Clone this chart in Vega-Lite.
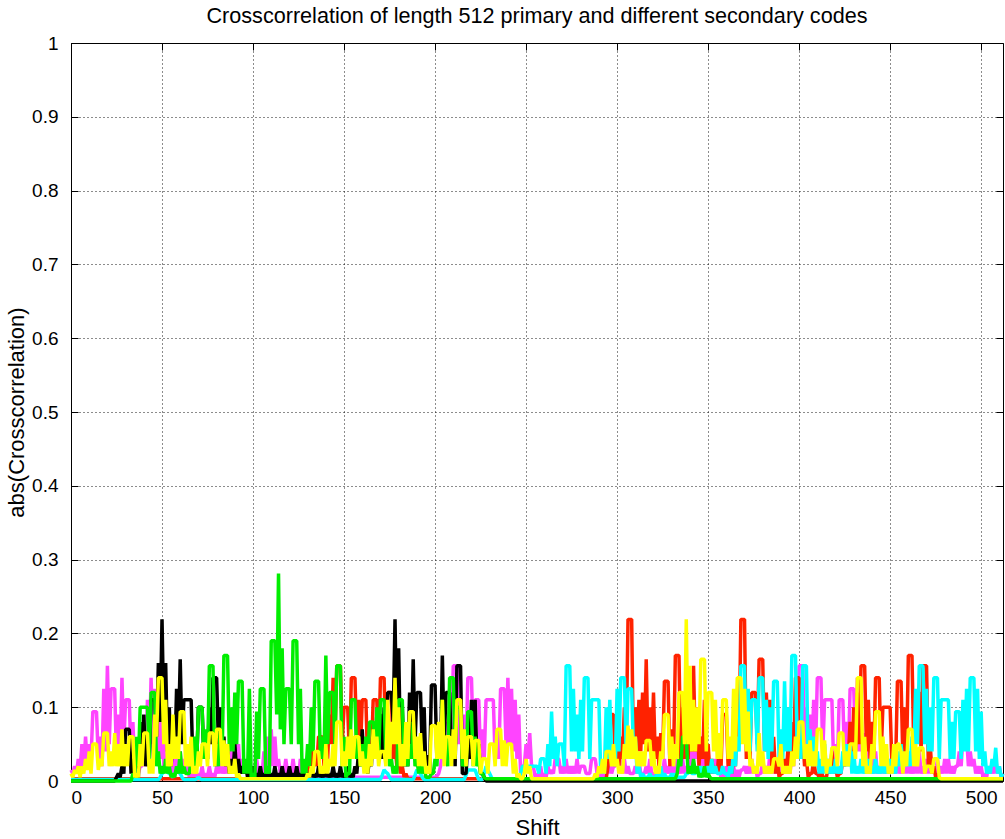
{
"$schema": "https://vega.github.io/schema/vega-lite/v6.json",
"width": 932, "height": 738,
"autosize": {"type": "none"},
"padding": {"left": 71, "top": 43, "right": 2, "bottom": 58},
"background": "white",
"title": {"text": "Crosscorrelation of length 512 primary and different secondary codes", "fontSize": 21.6, "font": "Liberation Sans", "fontWeight": "normal", "color": "black", "offset": 6, "anchor": "middle"},
"config": {"view": {"stroke": "black", "strokeWidth": 1}, "font": "Liberation Sans"},
"data": {"values": [
{"x":0,"m":0.015,"k":0,"g":0,"r":0.003,"c":0.002,"yl":0.01},
{"x":2,"m":0.02,"k":0,"g":0,"r":0.003,"c":0.002,"yl":0.015},
{"x":4,"m":0.03,"k":0,"g":0,"r":0.003,"c":0.002,"yl":0.02},
{"x":6,"m":0.05,"k":0,"g":0,"r":0.003,"c":0.002,"yl":0.02},
{"x":8,"m":0.06,"k":0,"g":0,"r":0.003,"c":0.002,"yl":0.03},
{"x":10,"m":0.05,"k":0,"g":0,"r":0.003,"c":0.002,"yl":0.04},
{"x":12,"m":0.094,"k":0,"g":0,"r":0.003,"c":0.002,"yl":0.05},
{"x":14,"m":0.094,"k":0,"g":0,"r":0.003,"c":0.002,"yl":0.05},
{"x":16,"m":0.06,"k":0,"g":0,"r":0.003,"c":0.002,"yl":0.03},
{"x":18,"m":0.125,"k":0,"g":0,"r":0.003,"c":0.002,"yl":0.065},
{"x":20,"m":0.156,"k":0,"g":0,"r":0.003,"c":0.002,"yl":0.065},
{"x":22,"m":0.125,"k":0,"g":0,"r":0.003,"c":0.002,"yl":0.04},
{"x":24,"m":0.125,"k":0,"g":0,"r":0.003,"c":0.002,"yl":0.065},
{"x":26,"m":0.09,"k":0.01,"g":0,"r":0.003,"c":0.002,"yl":0.05},
{"x":28,"m":0.14,"k":0.02,"g":0,"r":0.003,"c":0.002,"yl":0.07},
{"x":30,"m":0.11,"k":0.07,"g":0,"r":0.003,"c":0.002,"yl":0.05},
{"x":32,"m":0.11,"k":0.07,"g":0,"r":0.003,"c":0.002,"yl":0.06},
{"x":34,"m":0.08,"k":0.03,"g":0.01,"r":0.003,"c":0.002,"yl":0.06},
{"x":36,"m":0.05,"k":0.01,"g":0.06,"r":0.003,"c":0.002,"yl":0.01},
{"x":38,"m":0.02,"k":0.08,"g":0.1,"r":0.003,"c":0.002,"yl":0.05},
{"x":40,"m":0.06,"k":0.09,"g":0.1,"r":0.003,"c":0.002,"yl":0.065},
{"x":42,"m":0.11,"k":0.05,"g":0.1,"r":0.003,"c":0.002,"yl":0.065},
{"x":44,"m":0.14,"k":0.11,"g":0.12,"r":0.003,"c":0.002,"yl":0.03},
{"x":46,"m":0.125,"k":0.11,"g":0.12,"r":0.003,"c":0.002,"yl":0.09},
{"x":48,"m":0.1,"k":0.16,"g":0.04,"r":0.003,"c":0.002,"yl":0.14},
{"x":50,"m":0.08,"k":0.219,"g":0.02,"r":0.003,"c":0.01,"yl":0.14},
{"x":52,"m":0.06,"k":0.16,"g":0.03,"r":0.003,"c":0.015,"yl":0.11},
{"x":54,"m":0.05,"k":0.1,"g":0.02,"r":0.003,"c":0.01,"yl":0.05},
{"x":56,"m":0.04,"k":0.06,"g":0.01,"r":0.003,"c":0.005,"yl":0.09},
{"x":58,"m":0.03,"k":0.125,"g":0.02,"r":0.003,"c":0.015,"yl":0.06},
{"x":60,"m":0.04,"k":0.165,"g":0.04,"r":0.003,"c":0.01,"yl":0.094},
{"x":62,"m":0.03,"k":0.11,"g":0.02,"r":0.003,"c":0.002,"yl":0.094},
{"x":64,"m":0.02,"k":0.11,"g":0.01,"r":0.003,"c":0.002,"yl":0.05},
{"x":66,"m":0.01,"k":0.11,"g":0.03,"r":0.003,"c":0.002,"yl":0.06},
{"x":68,"m":0.02,"k":0.03,"g":0.06,"r":0.003,"c":0.002,"yl":0.02},
{"x":70,"m":0.01,"k":0.1,"g":0.1,"r":0.003,"c":0.005,"yl":0.04},
{"x":72,"m":0.02,"k":0.1,"g":0.1,"r":0.003,"c":0.002,"yl":0.05},
{"x":74,"m":0.01,"k":0.06,"g":0.07,"r":0.003,"c":0.002,"yl":0.05},
{"x":76,"m":0.02,"k":0.1,"g":0.156,"r":0.003,"c":0.002,"yl":0.065},
{"x":78,"m":0.01,"k":0.14,"g":0.156,"r":0.003,"c":0.002,"yl":0.065},
{"x":80,"m":0.02,"k":0.14,"g":0.05,"r":0.003,"c":0.002,"yl":0.07},
{"x":82,"m":0.03,"k":0.1,"g":0.07,"r":0.003,"c":0.002,"yl":0.07},
{"x":84,"m":0.02,"k":0.06,"g":0.17,"r":0.003,"c":0.002,"yl":0.055},
{"x":86,"m":0.03,"k":0.04,"g":0.17,"r":0.003,"c":0.002,"yl":0.05},
{"x":88,"m":0.05,"k":0.03,"g":0.1,"r":0.003,"c":0.002,"yl":0.02},
{"x":90,"m":0.07,"k":0.05,"g":0.12,"r":0.003,"c":0.002,"yl":0.03},
{"x":92,"m":0.05,"k":0.03,"g":0.135,"r":0.003,"c":0.002,"yl":0.01},
{"x":94,"m":0.03,"k":0.02,"g":0.135,"r":0.003,"c":0.002,"yl":0.003},
{"x":96,"m":0.02,"k":0.02,"g":0.03,"r":0.003,"c":0.002,"yl":0.003},
{"x":98,"m":0.03,"k":0.01,"g":0.125,"r":0.003,"c":0.002,"yl":0.003},
{"x":100,"m":0.02,"k":0.02,"g":0.01,"r":0.003,"c":0.002,"yl":0.003},
{"x":102,"m":0.03,"k":0.01,"g":0.094,"r":0.003,"c":0.002,"yl":0.003},
{"x":104,"m":0.02,"k":0.02,"g":0.125,"r":0.003,"c":0.002,"yl":0.003},
{"x":106,"m":0.04,"k":0.01,"g":0.125,"r":0.003,"c":0.002,"yl":0.003},
{"x":108,"m":0.06,"k":0.02,"g":0.02,"r":0.003,"c":0.002,"yl":0.003},
{"x":110,"m":0.07,"k":0.01,"g":0.19,"r":0.003,"c":0.002,"yl":0.003},
{"x":112,"m":0.06,"k":0.02,"g":0.19,"r":0.003,"c":0.002,"yl":0.003},
{"x":114,"m":0.03,"k":0.01,"g":0.281,"r":0.003,"c":0.002,"yl":0.003},
{"x":116,"m":0.02,"k":0.02,"g":0.18,"r":0.003,"c":0.002,"yl":0.003},
{"x":118,"m":0.03,"k":0.01,"g":0.125,"r":0.003,"c":0.002,"yl":0.003},
{"x":120,"m":0.01,"k":0.02,"g":0.125,"r":0.003,"c":0.002,"yl":0.003},
{"x":122,"m":0.03,"k":0.01,"g":0.19,"r":0.003,"c":0.002,"yl":0.003},
{"x":124,"m":0.01,"k":0.02,"g":0.19,"r":0.003,"c":0.002,"yl":0.003},
{"x":126,"m":0.03,"k":0.01,"g":0.125,"r":0.003,"c":0.002,"yl":0.003},
{"x":128,"m":0.01,"k":0.02,"g":0.03,"r":0.003,"c":0.002,"yl":0.003},
{"x":130,"m":0.02,"k":0.01,"g":0.05,"r":0.02,"c":0.002,"yl":0.01},
{"x":132,"m":0.005,"k":0.02,"g":0.1,"r":0.05,"c":0.002,"yl":0.02},
{"x":134,"m":0.005,"k":0.01,"g":0.135,"r":0.04,"c":0.002,"yl":0.04},
{"x":136,"m":0.005,"k":0.02,"g":0.135,"r":0.06,"c":0.002,"yl":0.04},
{"x":138,"m":0.005,"k":0.01,"g":0.06,"r":0.06,"c":0.002,"yl":0.02},
{"x":140,"m":0.005,"k":0.02,"g":0.17,"r":0.05,"c":0.002,"yl":0.05},
{"x":142,"m":0.005,"k":0.01,"g":0.12,"r":0.09,"c":0.002,"yl":0.03},
{"x":144,"m":0.005,"k":0.02,"g":0.12,"r":0.14,"c":0.002,"yl":0.05},
{"x":146,"m":0.005,"k":0.01,"g":0.156,"r":0.156,"c":0.002,"yl":0.08},
{"x":148,"m":0.005,"k":0.02,"g":0.156,"r":0.156,"c":0.002,"yl":0.08},
{"x":150,"m":0.005,"k":0.01,"g":0.06,"r":0.1,"c":0.002,"yl":0.04},
{"x":152,"m":0.005,"k":0.02,"g":0.01,"r":0.1,"c":0.002,"yl":0.06},
{"x":154,"m":0.005,"k":0.01,"g":0.11,"r":0.14,"c":0.002,"yl":0.07},
{"x":156,"m":0.005,"k":0.02,"g":0.11,"r":0.14,"c":0.002,"yl":0.06},
{"x":158,"m":0.005,"k":0.04,"g":0.06,"r":0.11,"c":0.002,"yl":0.06},
{"x":160,"m":0.005,"k":0.07,"g":0.05,"r":0.11,"c":0.002,"yl":0.04},
{"x":162,"m":0.005,"k":0.05,"g":0.06,"r":0.11,"c":0.002,"yl":0.03},
{"x":164,"m":0.005,"k":0.03,"g":0.08,"r":0.05,"c":0.002,"yl":0.05},
{"x":166,"m":0.005,"k":0.07,"g":0.08,"r":0.11,"c":0.002,"yl":0.07},
{"x":168,"m":0.005,"k":0.09,"g":0.1,"r":0.11,"c":0.002,"yl":0.06},
{"x":170,"m":0.005,"k":0.09,"g":0.11,"r":0.14,"c":0.002,"yl":0.04},
{"x":172,"m":0.005,"k":0.1,"g":0.11,"r":0.14,"c":0.015,"yl":0.04},
{"x":174,"m":0.005,"k":0.12,"g":0.08,"r":0.12,"c":0.01,"yl":0.11},
{"x":176,"m":0.005,"k":0.12,"g":0.03,"r":0.12,"c":0.002,"yl":0.08},
{"x":178,"m":0.005,"k":0.219,"g":0.02,"r":0.05,"c":0.002,"yl":0.14},
{"x":180,"m":0.005,"k":0.18,"g":0.11,"r":0.03,"c":0.002,"yl":0.1},
{"x":182,"m":0.005,"k":0.1,"g":0.11,"r":0.02,"c":0.002,"yl":0.05},
{"x":184,"m":0.005,"k":0.05,"g":0.06,"r":0.01,"c":0.002,"yl":0.08},
{"x":186,"m":0.005,"k":0.12,"g":0.05,"r":0.003,"c":0.002,"yl":0.094},
{"x":188,"m":0.005,"k":0.165,"g":0.08,"r":0.003,"c":0.002,"yl":0.094},
{"x":190,"m":0.005,"k":0.12,"g":0.03,"r":0.003,"c":0.015,"yl":0.06},
{"x":192,"m":0.005,"k":0.12,"g":0.05,"r":0.003,"c":0.01,"yl":0.065},
{"x":194,"m":0.005,"k":0.1,"g":0.02,"r":0.003,"c":0.002,"yl":0.04},
{"x":196,"m":0.005,"k":0.035,"g":0.005,"r":0.003,"c":0.002,"yl":0.02},
{"x":198,"m":0.005,"k":0.13,"g":0.01,"r":0.003,"c":0.002,"yl":0.075},
{"x":200,"m":0.005,"k":0.13,"g":0.03,"r":0.003,"c":0.002,"yl":0.075},
{"x":202,"m":0.01,"k":0.06,"g":0.07,"r":0.003,"c":0.002,"yl":0.08},
{"x":204,"m":0.04,"k":0.17,"g":0.11,"r":0.003,"c":0.002,"yl":0.11},
{"x":206,"m":0.08,"k":0.12,"g":0.05,"r":0.003,"c":0.002,"yl":0.06},
{"x":208,"m":0.125,"k":0.12,"g":0.14,"r":0.003,"c":0.002,"yl":0.06},
{"x":210,"m":0.156,"k":0.06,"g":0.14,"r":0.003,"c":0.002,"yl":0.07},
{"x":212,"m":0.156,"k":0.156,"g":0.1,"r":0.003,"c":0.002,"yl":0.11},
{"x":214,"m":0.1,"k":0.156,"g":0.1,"r":0.003,"c":0.002,"yl":0.11},
{"x":216,"m":0.09,"k":0.01,"g":0.03,"r":0.003,"c":0.002,"yl":0.07},
{"x":218,"m":0.14,"k":0.05,"g":0.094,"r":0.003,"c":0.015,"yl":0.06},
{"x":220,"m":0.14,"k":0.11,"g":0.094,"r":0.003,"c":0.015,"yl":0.06},
{"x":222,"m":0.11,"k":0.11,"g":0.06,"r":0.003,"c":0.015,"yl":0.055},
{"x":224,"m":0.11,"k":0.05,"g":0.03,"r":0.003,"c":0.002,"yl":0.055},
{"x":226,"m":0.07,"k":0.01,"g":0.01,"r":0.003,"c":0.002,"yl":0.03},
{"x":228,"m":0.11,"k":0,"g":0.003,"r":0.003,"c":0.02,"yl":0.03},
{"x":230,"m":0.11,"k":0,"g":0.003,"r":0.003,"c":0.01,"yl":0.05},
{"x":232,"m":0.11,"k":0,"g":0.003,"r":0.003,"c":0.002,"yl":0.05},
{"x":234,"m":0.07,"k":0,"g":0.003,"r":0.003,"c":0.002,"yl":0.07},
{"x":236,"m":0.125,"k":0,"g":0.003,"r":0.003,"c":0.002,"yl":0.07},
{"x":238,"m":0.125,"k":0,"g":0.003,"r":0.003,"c":0.002,"yl":0.055},
{"x":240,"m":0.14,"k":0,"g":0.003,"r":0.003,"c":0.002,"yl":0.05},
{"x":242,"m":0.125,"k":0,"g":0.003,"r":0.003,"c":0.002,"yl":0.05},
{"x":244,"m":0.11,"k":0,"g":0.003,"r":0.003,"c":0.002,"yl":0.03},
{"x":246,"m":0.09,"k":0,"g":0.003,"r":0.003,"c":0.002,"yl":0.01},
{"x":248,"m":0.02,"k":0,"g":0.003,"r":0.003,"c":0.02,"yl":0.003},
{"x":250,"m":0.05,"k":0,"g":0.003,"r":0.003,"c":0.02,"yl":0.03},
{"x":252,"m":0.065,"k":0,"g":0.003,"r":0.003,"c":0.02,"yl":0.02},
{"x":254,"m":0.02,"k":0,"g":0.003,"r":0.003,"c":0.02,"yl":0.003},
{"x":256,"m":0.01,"k":0,"g":0.003,"r":0.003,"c":0.02,"yl":0.003},
{"x":258,"m":0.02,"k":0,"g":0.003,"r":0.003,"c":0.03,"yl":0.003},
{"x":260,"m":0.01,"k":0,"g":0.003,"r":0.003,"c":0.03,"yl":0.003},
{"x":262,"m":0.02,"k":0,"g":0.003,"r":0.003,"c":0.05,"yl":0.003},
{"x":264,"m":0.015,"k":0,"g":0.003,"r":0.003,"c":0.094,"yl":0.003},
{"x":266,"m":0.03,"k":0,"g":0.003,"r":0.003,"c":0.06,"yl":0.003},
{"x":268,"m":0.03,"k":0,"g":0.003,"r":0.003,"c":0.05,"yl":0.003},
{"x":270,"m":0.02,"k":0,"g":0.003,"r":0.003,"c":0.05,"yl":0.003},
{"x":272,"m":0.03,"k":0,"g":0.003,"r":0.003,"c":0.156,"yl":0.003},
{"x":274,"m":0.02,"k":0,"g":0.003,"r":0.003,"c":0.156,"yl":0.003},
{"x":276,"m":0.02,"k":0,"g":0.003,"r":0.003,"c":0.125,"yl":0.003},
{"x":278,"m":0.03,"k":0,"g":0.003,"r":0.003,"c":0.09,"yl":0.003},
{"x":280,"m":0.02,"k":0,"g":0.003,"r":0.003,"c":0.11,"yl":0.003},
{"x":282,"m":0.02,"k":0,"g":0.003,"r":0.003,"c":0.14,"yl":0.003},
{"x":284,"m":0.01,"k":0,"g":0.003,"r":0.003,"c":0.14,"yl":0.003},
{"x":286,"m":0.03,"k":0,"g":0.003,"r":0.003,"c":0.11,"yl":0.003},
{"x":288,"m":0.03,"k":0,"g":0.003,"r":0.003,"c":0.11,"yl":0.01},
{"x":290,"m":0.02,"k":0,"g":0.003,"r":0.003,"c":0.11,"yl":0.02},
{"x":292,"m":0.01,"k":0,"g":0.003,"r":0.003,"c":0.02,"yl":0.03},
{"x":294,"m":0.02,"k":0,"g":0.003,"r":0.003,"c":0.1,"yl":0.04},
{"x":296,"m":0.03,"k":0,"g":0.003,"r":0.09,"c":0.11,"yl":0.04},
{"x":298,"m":0.02,"k":0,"g":0.003,"r":0.09,"c":0.05,"yl":0.05},
{"x":300,"m":0.05,"k":0,"g":0.003,"r":0.05,"c":0.125,"yl":0.03},
{"x":302,"m":0.05,"k":0,"g":0.003,"r":0.06,"c":0.14,"yl":0.02},
{"x":304,"m":0.03,"k":0,"g":0.003,"r":0.1,"c":0.14,"yl":0.05},
{"x":306,"m":0.02,"k":0,"g":0.003,"r":0.219,"c":0.125,"yl":0.075},
{"x":308,"m":0.01,"k":0,"g":0.003,"r":0.219,"c":0.125,"yl":0.07},
{"x":310,"m":0.02,"k":0,"g":0.003,"r":0.1,"c":0.06,"yl":0.06},
{"x":312,"m":0.03,"k":0,"g":0.003,"r":0.11,"c":0.02,"yl":0.04},
{"x":314,"m":0.01,"k":0,"g":0.003,"r":0.12,"c":0.01,"yl":0.04},
{"x":316,"m":0.02,"k":0,"g":0.003,"r":0.165,"c":0.005,"yl":0.055},
{"x":318,"m":0.03,"k":0,"g":0.003,"r":0.1,"c":0.01,"yl":0.055},
{"x":320,"m":0.01,"k":0,"g":0.003,"r":0.12,"c":0.005,"yl":0.04},
{"x":322,"m":0.02,"k":0,"g":0.003,"r":0.06,"c":0.01,"yl":0.02},
{"x":324,"m":0.01,"k":0,"g":0.003,"r":0.065,"c":0.02,"yl":0.04},
{"x":326,"m":0.03,"k":0,"g":0.003,"r":0.135,"c":0.01,"yl":0.09},
{"x":328,"m":0.02,"k":0,"g":0.003,"r":0.135,"c":0.005,"yl":0.09},
{"x":330,"m":0.04,"k":0,"g":0.003,"r":0.07,"c":0.01,"yl":0.06},
{"x":332,"m":0.03,"k":0,"g":0.003,"r":0.17,"c":0.01,"yl":0.05},
{"x":334,"m":0.02,"k":0,"g":0.03,"r":0.17,"c":0.005,"yl":0.12},
{"x":336,"m":0.03,"k":0,"g":0.06,"r":0.1,"c":0.005,"yl":0.12},
{"x":338,"m":0.02,"k":0,"g":0.06,"r":0.08,"c":0.01,"yl":0.219},
{"x":340,"m":0.04,"k":0,"g":0.02,"r":0.1,"c":0.02,"yl":0.156},
{"x":342,"m":0.065,"k":0,"g":0.03,"r":0.156,"c":0.01,"yl":0.11},
{"x":344,"m":0.05,"k":0,"g":0.02,"r":0.1,"c":0.02,"yl":0.1},
{"x":346,"m":0.06,"k":0,"g":0.01,"r":0.06,"c":0.02,"yl":0.165},
{"x":348,"m":0.04,"k":0,"g":0.02,"r":0.11,"c":0.01,"yl":0.165},
{"x":350,"m":0.03,"k":0,"g":0.01,"r":0.05,"c":0.02,"yl":0.12},
{"x":352,"m":0.02,"k":0,"g":0.003,"r":0.03,"c":0.03,"yl":0.12},
{"x":354,"m":0.03,"k":0,"g":0.003,"r":0.02,"c":0.02,"yl":0.11},
{"x":356,"m":0.02,"k":0,"g":0.003,"r":0.04,"c":0.01,"yl":0.065},
{"x":358,"m":0.01,"k":0,"g":0.003,"r":0.09,"c":0.02,"yl":0.11},
{"x":360,"m":0.02,"k":0,"g":0.003,"r":0.09,"c":0.01,"yl":0.11},
{"x":362,"m":0.01,"k":0,"g":0.003,"r":0.05,"c":0.02,"yl":0.06},
{"x":364,"m":0.02,"k":0,"g":0.003,"r":0.03,"c":0.045,"yl":0.125},
{"x":366,"m":0.015,"k":0,"g":0.003,"r":0.09,"c":0.06,"yl":0.14},
{"x":368,"m":0.015,"k":0,"g":0.003,"r":0.219,"c":0.156,"yl":0.14},
{"x":370,"m":0.02,"k":0,"g":0.003,"r":0.219,"c":0.156,"yl":0.125},
{"x":372,"m":0.02,"k":0,"g":0.003,"r":0.09,"c":0.125,"yl":0.094},
{"x":374,"m":0.03,"k":0,"g":0.003,"r":0.12,"c":0.11,"yl":0.03},
{"x":376,"m":0.02,"k":0,"g":0.003,"r":0.12,"c":0.11,"yl":0.02},
{"x":378,"m":0.01,"k":0,"g":0.003,"r":0.165,"c":0.14,"yl":0.065},
{"x":380,"m":0.03,"k":0,"g":0.003,"r":0.165,"c":0.14,"yl":0.04},
{"x":382,"m":0.02,"k":0,"g":0.003,"r":0.12,"c":0.11,"yl":0.02},
{"x":384,"m":0.04,"k":0,"g":0.003,"r":0.11,"c":0.1,"yl":0.02},
{"x":386,"m":0.03,"k":0,"g":0.003,"r":0.06,"c":0.135,"yl":0.03},
{"x":388,"m":0.02,"k":0,"g":0.003,"r":0.03,"c":0.135,"yl":0.03},
{"x":390,"m":0.04,"k":0,"g":0.003,"r":0.01,"c":0.07,"yl":0.05},
{"x":392,"m":0.03,"k":0,"g":0.003,"r":0.03,"c":0.135,"yl":0.02},
{"x":394,"m":0.02,"k":0,"g":0.003,"r":0.05,"c":0.1,"yl":0.02},
{"x":396,"m":0.04,"k":0,"g":0.003,"r":0.08,"c":0.17,"yl":0.04},
{"x":398,"m":0.09,"k":0,"g":0.003,"r":0.14,"c":0.17,"yl":0.06},
{"x":400,"m":0.156,"k":0,"g":0.003,"r":0.14,"c":0.05,"yl":0.08},
{"x":402,"m":0.156,"k":0,"g":0.003,"r":0.06,"c":0.156,"yl":0.08},
{"x":404,"m":0.1,"k":0,"g":0.003,"r":0.03,"c":0.156,"yl":0.05},
{"x":406,"m":0.09,"k":0,"g":0.003,"r":0.01,"c":0.07,"yl":0.055},
{"x":408,"m":0.11,"k":0,"g":0.003,"r":0.03,"c":0.06,"yl":0.04},
{"x":410,"m":0.14,"k":0,"g":0.003,"r":0.01,"c":0.04,"yl":0.07},
{"x":412,"m":0.14,"k":0,"g":0.003,"r":0.02,"c":0.03,"yl":0.07},
{"x":414,"m":0.11,"k":0,"g":0.003,"r":0.005,"c":0.05,"yl":0.055},
{"x":416,"m":0.11,"k":0,"g":0.003,"r":0.02,"c":0.03,"yl":0.03},
{"x":418,"m":0.11,"k":0,"g":0.003,"r":0.04,"c":0.02,"yl":0.045},
{"x":420,"m":0.05,"k":0,"g":0.003,"r":0.02,"c":0.03,"yl":0.045},
{"x":422,"m":0.11,"k":0,"g":0.003,"r":0.01,"c":0.02,"yl":0.065},
{"x":424,"m":0.11,"k":0,"g":0.003,"r":0.03,"c":0.04,"yl":0.065},
{"x":426,"m":0.08,"k":0,"g":0.003,"r":0.05,"c":0.05,"yl":0.04},
{"x":428,"m":0.125,"k":0,"g":0.003,"r":0.08,"c":0.05,"yl":0.05},
{"x":430,"m":0.125,"k":0,"g":0.003,"r":0.1,"c":0.04,"yl":0.05},
{"x":432,"m":0.14,"k":0,"g":0.003,"r":0.12,"c":0.02,"yl":0.14},
{"x":434,"m":0.1,"k":0,"g":0.003,"r":0.156,"c":0.03,"yl":0.14},
{"x":436,"m":0.065,"k":0,"g":0.003,"r":0.156,"c":0.02,"yl":0.06},
{"x":438,"m":0.04,"k":0,"g":0.003,"r":0.11,"c":0.03,"yl":0.02},
{"x":440,"m":0.03,"k":0,"g":0.003,"r":0.08,"c":0.02,"yl":0.05},
{"x":442,"m":0.04,"k":0,"g":0.003,"r":0.14,"c":0.03,"yl":0.094},
{"x":444,"m":0.02,"k":0,"g":0.003,"r":0.14,"c":0.02,"yl":0.094},
{"x":446,"m":0.03,"k":0,"g":0.003,"r":0.1,"c":0.03,"yl":0.06},
{"x":448,"m":0.02,"k":0,"g":0.003,"r":0.1,"c":0.02,"yl":0.05},
{"x":450,"m":0.03,"k":0,"g":0.003,"r":0.1,"c":0.03,"yl":0.02},
{"x":452,"m":0.02,"k":0,"g":0.003,"r":0.04,"c":0.02,"yl":0.05},
{"x":454,"m":0.03,"k":0,"g":0.003,"r":0.135,"c":0.04,"yl":0.05},
{"x":456,"m":0.02,"k":0,"g":0.003,"r":0.135,"c":0.05,"yl":0.04},
{"x":458,"m":0.04,"k":0,"g":0.003,"r":0.1,"c":0.03,"yl":0.04},
{"x":460,"m":0.03,"k":0,"g":0.003,"r":0.17,"c":0.04,"yl":0.07},
{"x":462,"m":0.02,"k":0,"g":0.003,"r":0.17,"c":0.06,"yl":0.07},
{"x":464,"m":0.03,"k":0,"g":0.003,"r":0.12,"c":0.125,"yl":0.05},
{"x":466,"m":0.04,"k":0,"g":0.003,"r":0.12,"c":0.156,"yl":0.045},
{"x":468,"m":0.02,"k":0,"g":0.003,"r":0.156,"c":0.156,"yl":0.045},
{"x":470,"m":0.03,"k":0,"g":0.003,"r":0.156,"c":0.125,"yl":0.02},
{"x":472,"m":0.03,"k":0,"g":0.003,"r":0.05,"c":0.1,"yl":0.02},
{"x":474,"m":0.02,"k":0,"g":0.003,"r":0.02,"c":0.14,"yl":0.03},
{"x":476,"m":0.03,"k":0,"g":0.003,"r":0.01,"c":0.14,"yl":0.03},
{"x":478,"m":0.02,"k":0,"g":0.003,"r":0.003,"c":0.11,"yl":0.003},
{"x":480,"m":0.03,"k":0,"g":0.003,"r":0.003,"c":0.11,"yl":0.003},
{"x":482,"m":0.03,"k":0,"g":0.003,"r":0.003,"c":0.11,"yl":0.003},
{"x":484,"m":0.02,"k":0,"g":0.003,"r":0.003,"c":0.08,"yl":0.003},
{"x":486,"m":0.02,"k":0,"g":0.003,"r":0.003,"c":0.094,"yl":0.003},
{"x":488,"m":0.04,"k":0,"g":0.003,"r":0.003,"c":0.094,"yl":0.003},
{"x":490,"m":0.06,"k":0,"g":0.003,"r":0.003,"c":0.11,"yl":0.003},
{"x":492,"m":0.06,"k":0,"g":0.003,"r":0.003,"c":0.125,"yl":0.003},
{"x":494,"m":0.04,"k":0,"g":0.003,"r":0.003,"c":0.14,"yl":0.003},
{"x":496,"m":0.03,"k":0,"g":0.003,"r":0.003,"c":0.14,"yl":0.003},
{"x":498,"m":0.02,"k":0,"g":0.003,"r":0.003,"c":0.125,"yl":0.003},
{"x":500,"m":0.02,"k":0,"g":0.003,"r":0.003,"c":0.094,"yl":0.003},
{"x":502,"m":0.01,"k":0,"g":0.003,"r":0.003,"c":0.04,"yl":0.003},
{"x":504,"m":0.02,"k":0,"g":0.003,"r":0.003,"c":0.02,"yl":0.003},
{"x":506,"m":0.02,"k":0,"g":0.003,"r":0.003,"c":0.03,"yl":0.003},
{"x":508,"m":0.03,"k":0,"g":0.003,"r":0.003,"c":0.045,"yl":0.003},
{"x":510,"m":0.02,"k":0,"g":0.003,"r":0.003,"c":0.02,"yl":0.003},
{"x":512,"m":0.01,"k":0,"g":0.003,"r":0.003,"c":0.01,"yl":0.003},
{"x":1,"m":0.01,"k":0,"g":0,"r":0.003,"c":0.002,"yl":0.005},
{"x":3,"m":0.01,"k":0,"g":0,"r":0.003,"c":0.002,"yl":0.01},
{"x":5,"m":0.015,"k":0,"g":0,"r":0.003,"c":0.002,"yl":0.005},
{"x":7,"m":0.02,"k":0,"g":0,"r":0.003,"c":0.002,"yl":0.01},
{"x":9,"m":0.02,"k":0,"g":0,"r":0.003,"c":0.002,"yl":0.015},
{"x":11,"m":0.03,"k":0,"g":0,"r":0.003,"c":0.002,"yl":0.01},
{"x":13,"m":0.094,"k":0,"g":0,"r":0.003,"c":0.002,"yl":0.05},
{"x":15,"m":0.03,"k":0,"g":0,"r":0.003,"c":0.002,"yl":0.015},
{"x":17,"m":0.02,"k":0,"g":0,"r":0.003,"c":0.002,"yl":0.02},
{"x":19,"m":0.04,"k":0,"g":0,"r":0.003,"c":0.002,"yl":0.065},
{"x":21,"m":0.05,"k":0,"g":0,"r":0.003,"c":0.002,"yl":0.02},
{"x":23,"m":0.125,"k":0,"g":0,"r":0.003,"c":0.002,"yl":0.02},
{"x":25,"m":0.03,"k":0.005,"g":0,"r":0.003,"c":0.002,"yl":0.02},
{"x":27,"m":0.04,"k":0.005,"g":0,"r":0.003,"c":0.002,"yl":0.02},
{"x":29,"m":0.05,"k":0.01,"g":0,"r":0.003,"c":0.002,"yl":0.02},
{"x":31,"m":0.11,"k":0.07,"g":0,"r":0.003,"c":0.002,"yl":0.02},
{"x":33,"m":0.03,"k":0.01,"g":0,"r":0.003,"c":0.002,"yl":0.06},
{"x":35,"m":0.02,"k":0.005,"g":0.005,"r":0.003,"c":0.002,"yl":0.005},
{"x":37,"m":0.01,"k":0.005,"g":0.02,"r":0.003,"c":0.002,"yl":0.005},
{"x":39,"m":0.02,"k":0.03,"g":0.1,"r":0.003,"c":0.002,"yl":0.02},
{"x":41,"m":0.02,"k":0.02,"g":0.1,"r":0.003,"c":0.002,"yl":0.065},
{"x":43,"m":0.04,"k":0.02,"g":0.03,"r":0.003,"c":0.002,"yl":0.01},
{"x":45,"m":0.05,"k":0.11,"g":0.12,"r":0.003,"c":0.002,"yl":0.01},
{"x":47,"m":0.04,"k":0.06,"g":0.02,"r":0.003,"c":0.002,"yl":0.06},
{"x":49,"m":0.03,"k":0.08,"g":0.01,"r":0.003,"c":0.005,"yl":0.14},
{"x":51,"m":0.02,"k":0.08,"g":0.01,"r":0.003,"c":0.012,"yl":0.05},
{"x":53,"m":0.02,"k":0.04,"g":0.01,"r":0.003,"c":0.012,"yl":0.02},
{"x":55,"m":0.01,"k":0.02,"g":0.005,"r":0.003,"c":0.008,"yl":0.02},
{"x":57,"m":0.01,"k":0.03,"g":0.005,"r":0.003,"c":0.01,"yl":0.03},
{"x":59,"m":0.01,"k":0.06,"g":0.01,"r":0.003,"c":0.012,"yl":0.03},
{"x":61,"m":0.01,"k":0.05,"g":0.01,"r":0.003,"c":0.005,"yl":0.094},
{"x":63,"m":0.01,"k":0.11,"g":0.01,"r":0.003,"c":0.002,"yl":0.02},
{"x":65,"m":0.005,"k":0.11,"g":0.01,"r":0.003,"c":0.002,"yl":0.02},
{"x":67,"m":0.005,"k":0.02,"g":0.02,"r":0.003,"c":0.002,"yl":0.01},
{"x":69,"m":0.005,"k":0.02,"g":0.02,"r":0.003,"c":0.003,"yl":0.01},
{"x":71,"m":0.005,"k":0.1,"g":0.1,"r":0.003,"c":0.003,"yl":0.02},
{"x":73,"m":0.005,"k":0.03,"g":0.03,"r":0.003,"c":0.002,"yl":0.05},
{"x":75,"m":0.005,"k":0.03,"g":0.03,"r":0.003,"c":0.002,"yl":0.02},
{"x":77,"m":0.005,"k":0.05,"g":0.156,"r":0.003,"c":0.002,"yl":0.065},
{"x":79,"m":0.005,"k":0.14,"g":0.02,"r":0.003,"c":0.002,"yl":0.02},
{"x":81,"m":0.01,"k":0.05,"g":0.02,"r":0.003,"c":0.002,"yl":0.07},
{"x":83,"m":0.01,"k":0.03,"g":0.03,"r":0.003,"c":0.002,"yl":0.02},
{"x":85,"m":0.01,"k":0.02,"g":0.17,"r":0.003,"c":0.002,"yl":0.02},
{"x":87,"m":0.02,"k":0.01,"g":0.04,"r":0.003,"c":0.002,"yl":0.01},
{"x":89,"m":0.02,"k":0.01,"g":0.04,"r":0.003,"c":0.002,"yl":0.01},
{"x":91,"m":0.02,"k":0.01,"g":0.05,"r":0.003,"c":0.002,"yl":0.005},
{"x":93,"m":0.01,"k":0.01,"g":0.135,"r":0.003,"c":0.002,"yl":0.003},
{"x":95,"m":0.01,"k":0.01,"g":0.01,"r":0.003,"c":0.002,"yl":0.003},
{"x":97,"m":0.01,"k":0.005,"g":0.01,"r":0.003,"c":0.002,"yl":0.003},
{"x":99,"m":0.01,"k":0.005,"g":0.005,"r":0.003,"c":0.002,"yl":0.003},
{"x":101,"m":0.01,"k":0.005,"g":0.005,"r":0.003,"c":0.002,"yl":0.003},
{"x":103,"m":0.01,"k":0.005,"g":0.03,"r":0.003,"c":0.002,"yl":0.003},
{"x":105,"m":0.01,"k":0.005,"g":0.125,"r":0.003,"c":0.002,"yl":0.003},
{"x":107,"m":0.02,"k":0.005,"g":0.01,"r":0.003,"c":0.002,"yl":0.003},
{"x":109,"m":0.02,"k":0.005,"g":0.01,"r":0.003,"c":0.002,"yl":0.003},
{"x":111,"m":0.02,"k":0.005,"g":0.19,"r":0.003,"c":0.002,"yl":0.003},
{"x":113,"m":0.02,"k":0.005,"g":0.09,"r":0.003,"c":0.002,"yl":0.003},
{"x":115,"m":0.01,"k":0.005,"g":0.07,"r":0.003,"c":0.002,"yl":0.003},
{"x":117,"m":0.01,"k":0.005,"g":0.05,"r":0.003,"c":0.002,"yl":0.003},
{"x":119,"m":0.01,"k":0.005,"g":0.125,"r":0.003,"c":0.002,"yl":0.003},
{"x":121,"m":0.01,"k":0.005,"g":0.05,"r":0.003,"c":0.002,"yl":0.003},
{"x":123,"m":0.01,"k":0.005,"g":0.19,"r":0.003,"c":0.002,"yl":0.003},
{"x":125,"m":0.005,"k":0.005,"g":0.05,"r":0.003,"c":0.002,"yl":0.003},
{"x":127,"m":0.01,"k":0.005,"g":0.01,"r":0.003,"c":0.002,"yl":0.003},
{"x":129,"m":0.005,"k":0.005,"g":0.01,"r":0.003,"c":0.002,"yl":0.003},
{"x":131,"m":0.005,"k":0.005,"g":0.02,"r":0.01,"c":0.002,"yl":0.005},
{"x":133,"m":0.005,"k":0.005,"g":0.04,"r":0.02,"c":0.002,"yl":0.01},
{"x":135,"m":0.005,"k":0.005,"g":0.135,"r":0.02,"c":0.002,"yl":0.04},
{"x":137,"m":0.005,"k":0.005,"g":0.03,"r":0.06,"c":0.002,"yl":0.01},
{"x":139,"m":0.005,"k":0.005,"g":0.03,"r":0.02,"c":0.002,"yl":0.01},
{"x":141,"m":0.005,"k":0.005,"g":0.05,"r":0.03,"c":0.002,"yl":0.01},
{"x":143,"m":0.005,"k":0.005,"g":0.12,"r":0.05,"c":0.002,"yl":0.02},
{"x":145,"m":0.005,"k":0.005,"g":0.05,"r":0.05,"c":0.002,"yl":0.02},
{"x":147,"m":0.005,"k":0.005,"g":0.156,"r":0.156,"c":0.002,"yl":0.08},
{"x":149,"m":0.005,"k":0.005,"g":0.02,"r":0.05,"c":0.002,"yl":0.02},
{"x":151,"m":0.005,"k":0.005,"g":0.005,"r":0.1,"c":0.002,"yl":0.02},
{"x":153,"m":0.005,"k":0.005,"g":0.01,"r":0.03,"c":0.002,"yl":0.03},
{"x":155,"m":0.005,"k":0.005,"g":0.11,"r":0.14,"c":0.002,"yl":0.03},
{"x":157,"m":0.005,"k":0.01,"g":0.03,"r":0.05,"c":0.002,"yl":0.06},
{"x":159,"m":0.005,"k":0.02,"g":0.02,"r":0.04,"c":0.002,"yl":0.02},
{"x":161,"m":0.005,"k":0.02,"g":0.02,"r":0.11,"c":0.002,"yl":0.01},
{"x":163,"m":0.005,"k":0.01,"g":0.03,"r":0.02,"c":0.002,"yl":0.01},
{"x":165,"m":0.005,"k":0.02,"g":0.08,"r":0.03,"c":0.002,"yl":0.02},
{"x":167,"m":0.005,"k":0.03,"g":0.03,"r":0.11,"c":0.002,"yl":0.03},
{"x":169,"m":0.005,"k":0.09,"g":0.03,"r":0.04,"c":0.002,"yl":0.02},
{"x":171,"m":0.005,"k":0.03,"g":0.11,"r":0.14,"c":0.008,"yl":0.04},
{"x":173,"m":0.005,"k":0.04,"g":0.03,"r":0.04,"c":0.012,"yl":0.02},
{"x":175,"m":0.005,"k":0.12,"g":0.02,"r":0.12,"c":0.005,"yl":0.03},
{"x":177,"m":0.005,"k":0.08,"g":0.01,"r":0.03,"c":0.002,"yl":0.05},
{"x":179,"m":0.005,"k":0.06,"g":0.01,"r":0.02,"c":0.002,"yl":0.05},
{"x":181,"m":0.005,"k":0.04,"g":0.11,"r":0.01,"c":0.002,"yl":0.02},
{"x":183,"m":0.005,"k":0.02,"g":0.02,"r":0.005,"c":0.002,"yl":0.02},
{"x":185,"m":0.005,"k":0.02,"g":0.02,"r":0.003,"c":0.002,"yl":0.03},
{"x":187,"m":0.005,"k":0.05,"g":0.03,"r":0.003,"c":0.002,"yl":0.094},
{"x":189,"m":0.005,"k":0.05,"g":0.02,"r":0.003,"c":0.008,"yl":0.03},
{"x":191,"m":0.005,"k":0.12,"g":0.01,"r":0.003,"c":0.012,"yl":0.02},
{"x":193,"m":0.005,"k":0.04,"g":0.01,"r":0.003,"c":0.005,"yl":0.02},
{"x":195,"m":0.005,"k":0.01,"g":0.005,"r":0.003,"c":0.002,"yl":0.01},
{"x":197,"m":0.005,"k":0.01,"g":0.005,"r":0.003,"c":0.002,"yl":0.01},
{"x":199,"m":0.005,"k":0.13,"g":0.01,"r":0.003,"c":0.002,"yl":0.075},
{"x":201,"m":0.007,"k":0.03,"g":0.02,"r":0.003,"c":0.002,"yl":0.03},
{"x":203,"m":0.02,"k":0.03,"g":0.03,"r":0.003,"c":0.002,"yl":0.03},
{"x":205,"m":0.05,"k":0.05,"g":0.03,"r":0.003,"c":0.002,"yl":0.02},
{"x":207,"m":0.04,"k":0.12,"g":0.02,"r":0.003,"c":0.002,"yl":0.06},
{"x":209,"m":0.05,"k":0.03,"g":0.14,"r":0.003,"c":0.002,"yl":0.02},
{"x":211,"m":0.156,"k":0.02,"g":0.04,"r":0.003,"c":0.002,"yl":0.03},
{"x":213,"m":0.05,"k":0.156,"g":0.1,"r":0.003,"c":0.002,"yl":0.11},
{"x":215,"m":0.03,"k":0.01,"g":0.02,"r":0.003,"c":0.002,"yl":0.03},
{"x":217,"m":0.04,"k":0.01,"g":0.02,"r":0.003,"c":0.008,"yl":0.02},
{"x":219,"m":0.14,"k":0.03,"g":0.094,"r":0.003,"c":0.015,"yl":0.06},
{"x":221,"m":0.05,"k":0.04,"g":0.02,"r":0.003,"c":0.015,"yl":0.02},
{"x":223,"m":0.11,"k":0.03,"g":0.02,"r":0.003,"c":0.008,"yl":0.055},
{"x":225,"m":0.03,"k":0.01,"g":0.01,"r":0.003,"c":0.002,"yl":0.01},
{"x":227,"m":0.03,"k":0.005,"g":0.005,"r":0.003,"c":0.01,"yl":0.03},
{"x":229,"m":0.11,"k":0,"g":0.003,"r":0.003,"c":0.015,"yl":0.01},
{"x":231,"m":0.11,"k":0,"g":0.003,"r":0.003,"c":0.005,"yl":0.05},
{"x":233,"m":0.03,"k":0,"g":0.003,"r":0.003,"c":0.002,"yl":0.02},
{"x":235,"m":0.03,"k":0,"g":0.003,"r":0.003,"c":0.002,"yl":0.07},
{"x":237,"m":0.125,"k":0,"g":0.003,"r":0.003,"c":0.002,"yl":0.02},
{"x":239,"m":0.05,"k":0,"g":0.003,"r":0.003,"c":0.002,"yl":0.02},
{"x":241,"m":0.05,"k":0,"g":0.003,"r":0.003,"c":0.002,"yl":0.05},
{"x":243,"m":0.04,"k":0,"g":0.003,"r":0.003,"c":0.002,"yl":0.01},
{"x":245,"m":0.03,"k":0,"g":0.003,"r":0.003,"c":0.002,"yl":0.005},
{"x":247,"m":0.01,"k":0,"g":0.003,"r":0.003,"c":0.01,"yl":0.003},
{"x":249,"m":0.02,"k":0,"g":0.003,"r":0.003,"c":0.02,"yl":0.01},
{"x":251,"m":0.03,"k":0,"g":0.003,"r":0.003,"c":0.02,"yl":0.01},
{"x":253,"m":0.02,"k":0,"g":0.003,"r":0.003,"c":0.02,"yl":0.003},
{"x":255,"m":0.005,"k":0,"g":0.003,"r":0.003,"c":0.02,"yl":0.003},
{"x":257,"m":0.005,"k":0,"g":0.003,"r":0.003,"c":0.01,"yl":0.003},
{"x":259,"m":0.005,"k":0,"g":0.003,"r":0.003,"c":0.03,"yl":0.003},
{"x":261,"m":0.005,"k":0,"g":0.003,"r":0.003,"c":0.01,"yl":0.003},
{"x":263,"m":0.01,"k":0,"g":0.003,"r":0.003,"c":0.02,"yl":0.003},
{"x":265,"m":0.01,"k":0,"g":0.003,"r":0.003,"c":0.03,"yl":0.003},
{"x":267,"m":0.03,"k":0,"g":0.003,"r":0.003,"c":0.02,"yl":0.003},
{"x":269,"m":0.01,"k":0,"g":0.003,"r":0.003,"c":0.05,"yl":0.003},
{"x":271,"m":0.01,"k":0,"g":0.003,"r":0.003,"c":0.02,"yl":0.003},
{"x":273,"m":0.01,"k":0,"g":0.003,"r":0.003,"c":0.156,"yl":0.003},
{"x":275,"m":0.01,"k":0,"g":0.003,"r":0.003,"c":0.04,"yl":0.003},
{"x":277,"m":0.01,"k":0,"g":0.003,"r":0.003,"c":0.04,"yl":0.003},
{"x":279,"m":0.01,"k":0,"g":0.003,"r":0.003,"c":0.03,"yl":0.003},
{"x":281,"m":0.02,"k":0,"g":0.003,"r":0.003,"c":0.04,"yl":0.003},
{"x":283,"m":0.01,"k":0,"g":0.003,"r":0.003,"c":0.14,"yl":0.003},
{"x":285,"m":0.01,"k":0,"g":0.003,"r":0.003,"c":0.03,"yl":0.003},
{"x":287,"m":0.03,"k":0,"g":0.003,"r":0.003,"c":0.11,"yl":0.003},
{"x":289,"m":0.01,"k":0,"g":0.003,"r":0.003,"c":0.11,"yl":0.005},
{"x":291,"m":0.005,"k":0,"g":0.003,"r":0.003,"c":0.01,"yl":0.01},
{"x":293,"m":0.005,"k":0,"g":0.003,"r":0.003,"c":0.01,"yl":0.01},
{"x":295,"m":0.01,"k":0,"g":0.003,"r":0.02,"c":0.03,"yl":0.04},
{"x":297,"m":0.01,"k":0,"g":0.003,"r":0.09,"c":0.03,"yl":0.02},
{"x":299,"m":0.02,"k":0,"g":0.003,"r":0.02,"c":0.02,"yl":0.02},
{"x":301,"m":0.05,"k":0,"g":0.003,"r":0.02,"c":0.04,"yl":0.01},
{"x":303,"m":0.01,"k":0,"g":0.003,"r":0.03,"c":0.14,"yl":0.01},
{"x":305,"m":0.01,"k":0,"g":0.003,"r":0.05,"c":0.04,"yl":0.03},
{"x":307,"m":0.01,"k":0,"g":0.003,"r":0.219,"c":0.125,"yl":0.03},
{"x":309,"m":0.01,"k":0,"g":0.003,"r":0.03,"c":0.04,"yl":0.03},
{"x":311,"m":0.01,"k":0,"g":0.003,"r":0.04,"c":0.01,"yl":0.02},
{"x":313,"m":0.01,"k":0,"g":0.003,"r":0.04,"c":0.005,"yl":0.02},
{"x":315,"m":0.01,"k":0,"g":0.003,"r":0.05,"c":0.005,"yl":0.02},
{"x":317,"m":0.01,"k":0,"g":0.003,"r":0.04,"c":0.005,"yl":0.055},
{"x":319,"m":0.01,"k":0,"g":0.003,"r":0.04,"c":0.005,"yl":0.02},
{"x":321,"m":0.005,"k":0,"g":0.003,"r":0.03,"c":0.005,"yl":0.01},
{"x":323,"m":0.005,"k":0,"g":0.003,"r":0.02,"c":0.005,"yl":0.01},
{"x":325,"m":0.01,"k":0,"g":0.003,"r":0.03,"c":0.005,"yl":0.03},
{"x":327,"m":0.01,"k":0,"g":0.003,"r":0.135,"c":0.005,"yl":0.09},
{"x":329,"m":0.01,"k":0,"g":0.003,"r":0.02,"c":0.005,"yl":0.03},
{"x":331,"m":0.01,"k":0,"g":0.003,"r":0.03,"c":0.005,"yl":0.02},
{"x":333,"m":0.01,"k":0,"g":0.01,"r":0.17,"c":0.005,"yl":0.03},
{"x":335,"m":0.01,"k":0,"g":0.02,"r":0.03,"c":0.005,"yl":0.12},
{"x":337,"m":0.01,"k":0,"g":0.06,"r":0.03,"c":0.005,"yl":0.05},
{"x":339,"m":0.01,"k":0,"g":0.01,"r":0.03,"c":0.01,"yl":0.05},
{"x":341,"m":0.02,"k":0,"g":0.01,"r":0.04,"c":0.01,"yl":0.04},
{"x":343,"m":0.03,"k":0,"g":0.01,"r":0.04,"c":0.01,"yl":0.04},
{"x":345,"m":0.02,"k":0,"g":0.005,"r":0.02,"c":0.01,"yl":0.05},
{"x":347,"m":0.02,"k":0,"g":0.005,"r":0.03,"c":0.01,"yl":0.165},
{"x":349,"m":0.01,"k":0,"g":0.005,"r":0.02,"c":0.01,"yl":0.04},
{"x":351,"m":0.01,"k":0,"g":0.005,"r":0.01,"c":0.01,"yl":0.12},
{"x":353,"m":0.01,"k":0,"g":0.003,"r":0.01,"c":0.01,"yl":0.04},
{"x":355,"m":0.01,"k":0,"g":0.003,"r":0.01,"c":0.01,"yl":0.03},
{"x":357,"m":0.005,"k":0,"g":0.003,"r":0.01,"c":0.01,"yl":0.03},
{"x":359,"m":0.005,"k":0,"g":0.003,"r":0.09,"c":0.01,"yl":0.11},
{"x":361,"m":0.005,"k":0,"g":0.003,"r":0.02,"c":0.005,"yl":0.03},
{"x":363,"m":0.005,"k":0,"g":0.003,"r":0.01,"c":0.01,"yl":0.03},
{"x":365,"m":0.005,"k":0,"g":0.003,"r":0.02,"c":0.02,"yl":0.04},
{"x":367,"m":0.005,"k":0,"g":0.003,"r":0.05,"c":0.04,"yl":0.14},
{"x":369,"m":0.015,"k":0,"g":0.003,"r":0.219,"c":0.156,"yl":0.05},
{"x":371,"m":0.01,"k":0,"g":0.003,"r":0.03,"c":0.05,"yl":0.04},
{"x":373,"m":0.01,"k":0,"g":0.003,"r":0.03,"c":0.04,"yl":0.02},
{"x":375,"m":0.01,"k":0,"g":0.003,"r":0.12,"c":0.11,"yl":0.01},
{"x":377,"m":0.005,"k":0,"g":0.003,"r":0.05,"c":0.04,"yl":0.01},
{"x":379,"m":0.01,"k":0,"g":0.003,"r":0.165,"c":0.14,"yl":0.02},
{"x":381,"m":0.01,"k":0,"g":0.003,"r":0.04,"c":0.04,"yl":0.01},
{"x":383,"m":0.01,"k":0,"g":0.003,"r":0.04,"c":0.03,"yl":0.01},
{"x":385,"m":0.01,"k":0,"g":0.003,"r":0.02,"c":0.04,"yl":0.01},
{"x":387,"m":0.01,"k":0,"g":0.003,"r":0.01,"c":0.135,"yl":0.03},
{"x":389,"m":0.01,"k":0,"g":0.003,"r":0.005,"c":0.03,"yl":0.02},
{"x":391,"m":0.01,"k":0,"g":0.003,"r":0.01,"c":0.03,"yl":0.01},
{"x":393,"m":0.01,"k":0,"g":0.003,"r":0.01,"c":0.04,"yl":0.01},
{"x":395,"m":0.01,"k":0,"g":0.003,"r":0.02,"c":0.04,"yl":0.01},
{"x":397,"m":0.02,"k":0,"g":0.003,"r":0.03,"c":0.17,"yl":0.02},
{"x":399,"m":0.04,"k":0,"g":0.003,"r":0.14,"c":0.03,"yl":0.03},
{"x":401,"m":0.156,"k":0,"g":0.003,"r":0.03,"c":0.03,"yl":0.08},
{"x":403,"m":0.04,"k":0,"g":0.003,"r":0.02,"c":0.156,"yl":0.03},
{"x":405,"m":0.03,"k":0,"g":0.003,"r":0.005,"c":0.03,"yl":0.02},
{"x":407,"m":0.03,"k":0,"g":0.003,"r":0.01,"c":0.02,"yl":0.02},
{"x":409,"m":0.04,"k":0,"g":0.003,"r":0.01,"c":0.02,"yl":0.02},
{"x":411,"m":0.14,"k":0,"g":0.003,"r":0.005,"c":0.01,"yl":0.07},
{"x":413,"m":0.04,"k":0,"g":0.003,"r":0.005,"c":0.01,"yl":0.02},
{"x":415,"m":0.11,"k":0,"g":0.003,"r":0.005,"c":0.01,"yl":0.01},
{"x":417,"m":0.11,"k":0,"g":0.003,"r":0.01,"c":0.01,"yl":0.02},
{"x":419,"m":0.02,"k":0,"g":0.003,"r":0.01,"c":0.01,"yl":0.045},
{"x":421,"m":0.02,"k":0,"g":0.003,"r":0.005,"c":0.01,"yl":0.02},
{"x":423,"m":0.11,"k":0,"g":0.003,"r":0.01,"c":0.01,"yl":0.065},
{"x":425,"m":0.03,"k":0,"g":0.003,"r":0.02,"c":0.02,"yl":0.02},
{"x":427,"m":0.03,"k":0,"g":0.003,"r":0.03,"c":0.02,"yl":0.02},
{"x":429,"m":0.125,"k":0,"g":0.003,"r":0.03,"c":0.01,"yl":0.05},
{"x":431,"m":0.05,"k":0,"g":0.003,"r":0.04,"c":0.01,"yl":0.03},
{"x":433,"m":0.04,"k":0,"g":0.003,"r":0.05,"c":0.01,"yl":0.14},
{"x":435,"m":0.03,"k":0,"g":0.003,"r":0.156,"c":0.01,"yl":0.02},
{"x":437,"m":0.02,"k":0,"g":0.003,"r":0.04,"c":0.01,"yl":0.01},
{"x":439,"m":0.01,"k":0,"g":0.003,"r":0.03,"c":0.01,"yl":0.01},
{"x":441,"m":0.01,"k":0,"g":0.003,"r":0.03,"c":0.01,"yl":0.03},
{"x":443,"m":0.01,"k":0,"g":0.003,"r":0.14,"c":0.01,"yl":0.094},
{"x":445,"m":0.01,"k":0,"g":0.003,"r":0.03,"c":0.01,"yl":0.02},
{"x":447,"m":0.01,"k":0,"g":0.003,"r":0.1,"c":0.01,"yl":0.02},
{"x":449,"m":0.01,"k":0,"g":0.003,"r":0.1,"c":0.01,"yl":0.01},
{"x":451,"m":0.01,"k":0,"g":0.003,"r":0.02,"c":0.01,"yl":0.01},
{"x":453,"m":0.01,"k":0,"g":0.003,"r":0.02,"c":0.01,"yl":0.02},
{"x":455,"m":0.01,"k":0,"g":0.003,"r":0.135,"c":0.02,"yl":0.05},
{"x":457,"m":0.01,"k":0,"g":0.003,"r":0.03,"c":0.02,"yl":0.01},
{"x":459,"m":0.01,"k":0,"g":0.003,"r":0.03,"c":0.02,"yl":0.02},
{"x":461,"m":0.01,"k":0,"g":0.003,"r":0.17,"c":0.02,"yl":0.07},
{"x":463,"m":0.01,"k":0,"g":0.003,"r":0.04,"c":0.03,"yl":0.02},
{"x":465,"m":0.01,"k":0,"g":0.003,"r":0.12,"c":0.05,"yl":0.02},
{"x":467,"m":0.01,"k":0,"g":0.003,"r":0.04,"c":0.156,"yl":0.045},
{"x":469,"m":0.01,"k":0,"g":0.003,"r":0.156,"c":0.05,"yl":0.01},
{"x":471,"m":0.01,"k":0,"g":0.003,"r":0.02,"c":0.04,"yl":0.02},
{"x":473,"m":0.01,"k":0,"g":0.003,"r":0.01,"c":0.04,"yl":0.01},
{"x":475,"m":0.01,"k":0,"g":0.003,"r":0.005,"c":0.14,"yl":0.03},
{"x":477,"m":0.01,"k":0,"g":0.003,"r":0.003,"c":0.03,"yl":0.005},
{"x":479,"m":0.01,"k":0,"g":0.003,"r":0.003,"c":0.11,"yl":0.003},
{"x":481,"m":0.01,"k":0,"g":0.003,"r":0.003,"c":0.11,"yl":0.003},
{"x":483,"m":0.01,"k":0,"g":0.003,"r":0.003,"c":0.03,"yl":0.003},
{"x":485,"m":0.01,"k":0,"g":0.003,"r":0.003,"c":0.03,"yl":0.003},
{"x":487,"m":0.02,"k":0,"g":0.003,"r":0.003,"c":0.094,"yl":0.003},
{"x":489,"m":0.02,"k":0,"g":0.003,"r":0.003,"c":0.03,"yl":0.003},
{"x":491,"m":0.06,"k":0,"g":0.003,"r":0.003,"c":0.04,"yl":0.003},
{"x":493,"m":0.02,"k":0,"g":0.003,"r":0.003,"c":0.04,"yl":0.003},
{"x":495,"m":0.02,"k":0,"g":0.003,"r":0.003,"c":0.14,"yl":0.003},
{"x":497,"m":0.01,"k":0,"g":0.003,"r":0.003,"c":0.04,"yl":0.003},
{"x":499,"m":0.01,"k":0,"g":0.003,"r":0.003,"c":0.03,"yl":0.003},
{"x":501,"m":0.005,"k":0,"g":0.003,"r":0.003,"c":0.02,"yl":0.003},
{"x":503,"m":0.005,"k":0,"g":0.003,"r":0.003,"c":0.01,"yl":0.003},
{"x":505,"m":0.01,"k":0,"g":0.003,"r":0.003,"c":0.01,"yl":0.003},
{"x":507,"m":0.01,"k":0,"g":0.003,"r":0.003,"c":0.02,"yl":0.003},
{"x":509,"m":0.01,"k":0,"g":0.003,"r":0.003,"c":0.01,"yl":0.003},
{"x":511,"m":0.005,"k":0,"g":0.003,"r":0.003,"c":0.005,"yl":0.003}
]},
"layer": [
{"mark": {"type": "line", "color": "#ff44ff", "strokeWidth": 3.5, "strokeJoin": "bevel"},
 "encoding": {
  "x": {"field": "x", "type": "quantitative", "sort": "ascending", "scale": {"domain": [0, 512], "nice": false, "zero": false},
   "axis": {"orient": "bottom", "values": [0,50,100,150,200,250,300,350,400,450,500], "grid": true, "gridDash": [1,3], "gridColor": "#000000", "gridOpacity": 0.9, "tickSize": -7, "tickColor": "#000000", "domain": false, "labelFontSize": 19, "labelColor": "#000000", "labelPadding": 14, "labelFont": "Liberation Sans", "title": "Shift", "titleFontSize": 22, "titleFontWeight": "normal", "titleColor": "#000000", "titleFont": "Liberation Sans", "titlePadding": 10}},
  "y": {"field": "m", "type": "quantitative", "scale": {"domain": [0, 1], "nice": false},
   "axis": {"orient": "left", "values": [0,0.1,0.2,0.3,0.4,0.5,0.6,0.7,0.8,0.9,1], "labelExpr": "datum.value == 0 ? '0' : datum.value == 1 ? '1' : format(datum.value, '.1f')", "grid": true, "gridDash": [1,3], "gridColor": "#000000", "gridOpacity": 0.9, "tickSize": -7, "tickColor": "#000000", "domain": false, "labelFontSize": 19, "labelColor": "#000000", "labelPadding": 20, "labelFont": "Liberation Sans", "title": "abs(Crosscorrelation)", "titleFontSize": 22, "titleFontWeight": "normal", "titleColor": "#000000", "titleFont": "Liberation Sans", "titlePadding": 3}}}},
{"mark": {"type": "line", "color": "#ff2200", "strokeWidth": 3.5, "strokeJoin": "bevel"},
 "encoding": {
  "x": {"field": "x", "type": "quantitative", "sort": "ascending", "scale": {"domain": [0, 512], "nice": false, "zero": false},
   "axis": {"orient": "top", "values": [0,50,100,150,200,250,300,350,400,450,500], "grid": false, "labels": false, "tickSize": -7, "tickColor": "#000000", "domain": false, "title": null}},
  "y": {"field": "r", "type": "quantitative", "scale": {"domain": [0, 1], "nice": false},
   "axis": {"orient": "right", "values": [0,0.1,0.2,0.3,0.4,0.5,0.6,0.7,0.8,0.9,1], "grid": false, "labels": false, "tickSize": -7, "tickColor": "#000000", "domain": false, "title": null}}}},
{"mark": {"type": "line", "color": "#00ffff", "strokeWidth": 3.5, "strokeJoin": "bevel"},
 "encoding": {"x": {"field": "x", "type": "quantitative", "sort": "ascending", "axis": null}, "y": {"field": "c", "type": "quantitative", "axis": null}}},
{"mark": {"type": "line", "color": "#000000", "strokeWidth": 3.5, "strokeJoin": "bevel"},
 "encoding": {"x": {"field": "x", "type": "quantitative", "sort": "ascending", "axis": null}, "y": {"field": "k", "type": "quantitative", "axis": null}}},
{"mark": {"type": "line", "color": "#00ee00", "strokeWidth": 3.5, "strokeJoin": "bevel"},
 "encoding": {"x": {"field": "x", "type": "quantitative", "sort": "ascending", "axis": null}, "y": {"field": "g", "type": "quantitative", "axis": null}}},
{"mark": {"type": "line", "color": "#ffff00", "strokeWidth": 3.5, "strokeJoin": "bevel"},
 "encoding": {"x": {"field": "x", "type": "quantitative", "sort": "ascending", "axis": null}, "y": {"field": "yl", "type": "quantitative", "axis": null}}}
],
"resolve": {"axis": {"x": "independent", "y": "independent"}}
}
